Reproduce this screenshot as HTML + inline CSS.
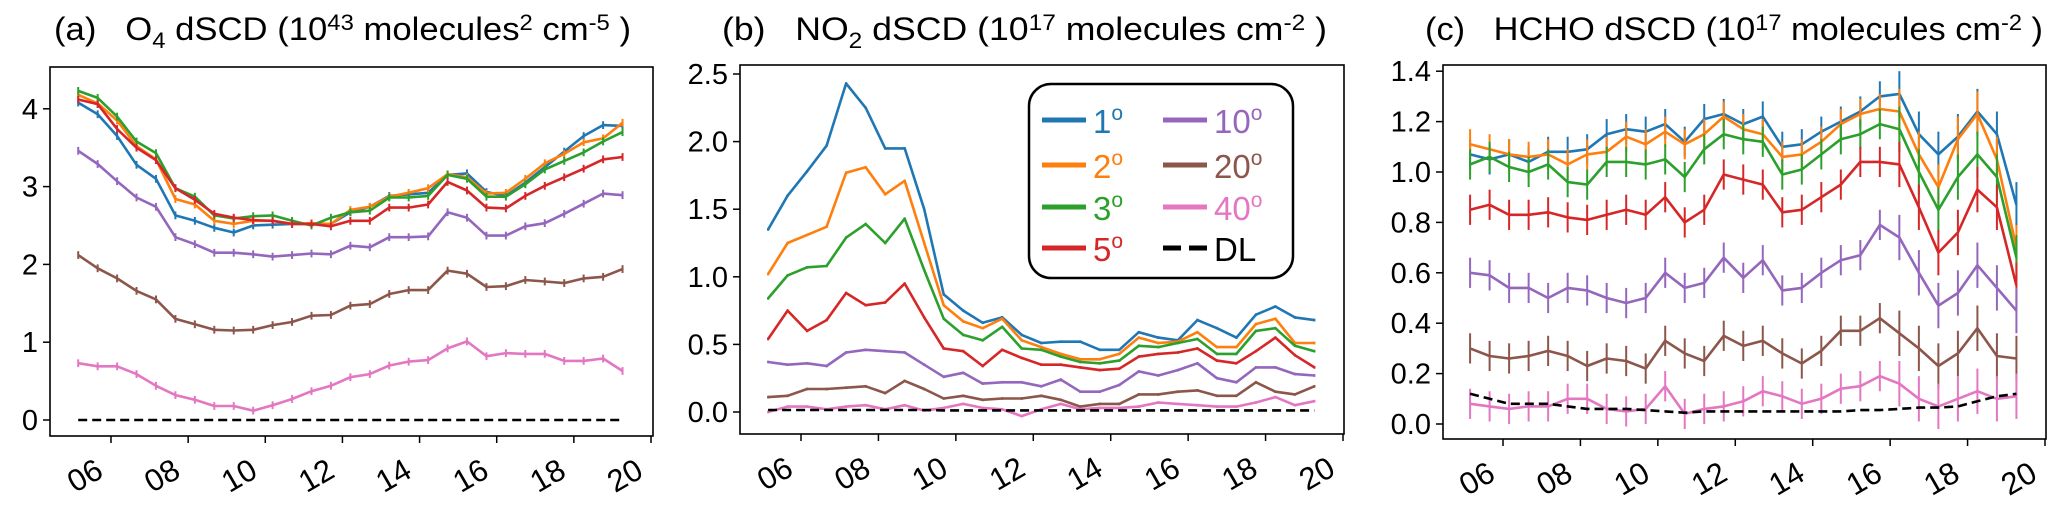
<!DOCTYPE html>
<html><head><meta charset="utf-8"><style>
body{margin:0;background:#fff}
svg{display:block;font-family:"Liberation Sans",sans-serif}
</style></head><body>
<svg id="fig" width="2067" height="513" viewBox="0 0 2067 513" xmlns="http://www.w3.org/2000/svg"></svg>
<script>
const hours=[];for(let i=0;i<29;i++)hours.push(5.15+0.504*i);
const xTicks=[6,8,10,12,14,16,18,20];
const xTickLabels=["06","08","10","12","14","16","18","20"];
const colors=["#1f77b4","#ff7f0e","#2ca02c","#d62728","#9467bd","#8c564b","#e377c2"];
const seriesNames=["1°","2°","3°","5°","10°","20°","40°"];
const o4_1=[4.08,3.93,3.65,3.28,3.1,2.63,2.56,2.47,2.41,2.5,2.51,2.52,2.52,2.52,2.67,2.74,2.88,2.9,2.92,3.15,3.17,2.93,2.88,3.05,3.25,3.45,3.65,3.79,3.78];
const o4_2=[4.18,4.07,3.85,3.52,3.35,2.84,2.77,2.56,2.52,2.56,2.56,2.52,2.53,2.52,2.7,2.74,2.87,2.92,2.98,3.16,3.12,2.91,2.92,3.1,3.3,3.42,3.57,3.62,3.82];
const o4_3=[4.23,4.14,3.9,3.58,3.43,2.98,2.87,2.63,2.59,2.62,2.63,2.56,2.5,2.6,2.67,2.69,2.86,2.86,2.88,3.15,3.1,2.87,2.87,3.03,3.22,3.33,3.44,3.58,3.7];
const o4_5=[4.12,4.06,3.74,3.5,3.34,2.98,2.83,2.65,2.6,2.57,2.56,2.52,2.52,2.49,2.56,2.56,2.73,2.73,2.77,3.06,2.95,2.73,2.72,2.88,3.01,3.12,3.23,3.35,3.38];
const o4_10=[3.46,3.29,3.07,2.86,2.74,2.35,2.26,2.15,2.15,2.13,2.1,2.12,2.14,2.13,2.24,2.22,2.35,2.35,2.36,2.67,2.6,2.37,2.37,2.49,2.53,2.65,2.78,2.91,2.89];
const o4_20=[2.12,1.95,1.82,1.66,1.55,1.3,1.23,1.16,1.15,1.16,1.22,1.26,1.34,1.35,1.47,1.49,1.62,1.67,1.67,1.92,1.88,1.71,1.72,1.8,1.78,1.76,1.82,1.84,1.94];
const o4_40=[0.73,0.69,0.69,0.59,0.44,0.32,0.26,0.18,0.18,0.12,0.19,0.27,0.37,0.44,0.55,0.59,0.7,0.75,0.77,0.92,1.01,0.82,0.86,0.85,0.85,0.76,0.76,0.79,0.63];
const o4_dl=[0,0,0,0,0,0,0,0,0,0,0,0,0,0,0,0,0,0,0,0,0,0,0,0,0,0,0,0,0];
const no2_1=[1.35,1.6,1.78,1.97,2.43,2.25,1.95,1.95,1.5,0.87,0.75,0.66,0.7,0.57,0.51,0.52,0.52,0.46,0.46,0.59,0.55,0.53,0.68,0.62,0.55,0.72,0.78,0.7,0.68];
const no2_2=[1.02,1.25,1.31,1.37,1.77,1.81,1.61,1.71,1.25,0.79,0.67,0.62,0.69,0.53,0.48,0.43,0.39,0.39,0.43,0.55,0.51,0.52,0.59,0.48,0.48,0.65,0.69,0.51,0.51];
const no2_3=[0.84,1.01,1.07,1.08,1.29,1.39,1.25,1.43,1.05,0.69,0.57,0.53,0.63,0.47,0.46,0.41,0.37,0.36,0.38,0.49,0.48,0.51,0.54,0.43,0.43,0.6,0.62,0.49,0.45];
const no2_5=[0.54,0.75,0.6,0.68,0.88,0.79,0.81,0.95,0.7,0.47,0.45,0.34,0.46,0.4,0.35,0.35,0.33,0.31,0.32,0.41,0.43,0.44,0.47,0.38,0.36,0.45,0.55,0.42,0.33];
const no2_10=[0.37,0.35,0.36,0.34,0.44,0.46,0.45,0.44,0.35,0.26,0.29,0.21,0.22,0.22,0.19,0.24,0.15,0.15,0.2,0.3,0.27,0.31,0.36,0.25,0.22,0.33,0.33,0.28,0.27];
const no2_20=[0.11,0.12,0.17,0.17,0.18,0.19,0.14,0.23,0.17,0.1,0.12,0.09,0.1,0.1,0.12,0.09,0.04,0.06,0.06,0.13,0.13,0.15,0.16,0.12,0.12,0.22,0.15,0.13,0.19];
const no2_40=[0.0,0.04,0.04,0.02,0.04,0.05,0.02,0.05,0.01,0.03,0.06,0.03,0.02,-0.03,0.02,0.06,0.02,0.03,0.03,0.04,0.07,0.06,0.05,0.04,0.04,0.07,0.11,0.05,0.08];
const no2_dl=[0.015,0.015,0.015,0.015,0.015,0.015,0.015,0.015,0.015,0.012,0.012,0.012,0.012,0.012,0.012,0.012,0.012,0.012,0.012,0.012,0.012,0.012,0.012,0.012,0.012,0.012,0.012,0.012,0.012];
const hcho_1=[1.07,1.05,1.07,1.04,1.08,1.08,1.09,1.15,1.17,1.16,1.19,1.12,1.21,1.23,1.19,1.22,1.1,1.11,1.16,1.2,1.24,1.3,1.31,1.15,1.07,1.14,1.24,1.15,0.87];
const hcho_2=[1.11,1.09,1.07,1.06,1.07,1.03,1.07,1.08,1.14,1.11,1.16,1.11,1.15,1.22,1.17,1.15,1.06,1.07,1.12,1.19,1.23,1.25,1.24,1.07,0.94,1.13,1.23,1.05,0.7];
const hcho_3=[1.03,1.06,1.02,1.0,1.03,0.96,0.95,1.04,1.04,1.03,1.05,0.98,1.09,1.15,1.13,1.12,0.99,1.01,1.07,1.13,1.15,1.19,1.17,1.0,0.85,0.98,1.07,0.98,0.66];
const hcho_5=[0.85,0.87,0.83,0.83,0.84,0.82,0.81,0.83,0.85,0.83,0.9,0.8,0.85,0.99,0.97,0.95,0.84,0.85,0.9,0.95,1.04,1.04,1.03,0.86,0.68,0.76,0.93,0.86,0.55];
const hcho_10=[0.6,0.59,0.54,0.54,0.5,0.54,0.53,0.5,0.48,0.5,0.6,0.54,0.56,0.66,0.58,0.65,0.53,0.54,0.6,0.65,0.67,0.79,0.74,0.6,0.47,0.52,0.63,0.54,0.45];
const hcho_20=[0.3,0.27,0.26,0.27,0.29,0.27,0.23,0.26,0.25,0.22,0.33,0.28,0.25,0.35,0.31,0.33,0.28,0.24,0.29,0.37,0.37,0.42,0.36,0.3,0.23,0.28,0.38,0.27,0.26];
const hcho_40=[0.08,0.07,0.06,0.07,0.07,0.1,0.1,0.06,0.05,0.06,0.15,0.04,0.06,0.07,0.09,0.13,0.11,0.08,0.1,0.14,0.15,0.19,0.16,0.1,0.07,0.1,0.13,0.1,0.11];
const hcho_dl=[0.12,0.1,0.08,0.08,0.08,0.07,0.06,0.06,0.06,0.055,0.05,0.045,0.05,0.05,0.05,0.05,0.05,0.05,0.05,0.05,0.055,0.055,0.06,0.065,0.065,0.07,0.09,0.11,0.12];
const yTicksA=[0,1,2,3,4], yLabelsA=["0","1","2","3","4"];
const yTicksB=[0,0.5,1,1.5,2,2.5], yLabelsB=["0.0","0.5","1.0","1.5","2.0","2.5"];
const yTicksC=[0,0.2,0.4,0.6,0.8,1.0,1.2,1.4], yLabelsC=["0.0","0.2","0.4","0.6","0.8","1.0","1.2","1.4"];
const errA=0.05, errB=0.01, errC=0.06;

const NS="http://www.w3.org/2000/svg";
const svg=document.getElementById('fig');
function mk(tag,attrs,parent){const e=document.createElementNS(NS,tag);for(const k in attrs)e.setAttribute(k,attrs[k]);(parent||svg).appendChild(e);return e;}

function panel(cfg){
  const g=mk('g',{});
  
  
  const X=h=>cfg.x6+(h-6)*(cfg.x20-cfg.x6)/14;
  const Y=v=>cfg.y0-v*cfg.ppu;
  cfg.series.forEach((s,si)=>{
    const sg=mk('g',{},g);
    
    
    const pts=s.map((v,i)=>X(hours[i]).toFixed(1)+','+Y(v).toFixed(1)).join(' ');
    mk('polyline',{points:pts,fill:'none',stroke:colors[si],'stroke-width':2.6,'stroke-linejoin':'round'},sg);
    s.forEach((v,i)=>{
      const e=cfg.err*(cfg.grow&&i>=22?1.5:1);
      mk('line',{x1:X(hours[i]),x2:X(hours[i]),y1:Y(v+e),y2:Y(v-e),stroke:colors[si],'stroke-width':2},sg);
    });
  });
  const dl=mk('polyline',{points:cfg.dl.map((v,i)=>X(hours[i]).toFixed(1)+','+Y(v).toFixed(1)).join(' '),fill:'none',stroke:'#000','stroke-width':2.6,'stroke-dasharray':'9,5'},g);
  
  
  const fr=mk('rect',{x:cfg.L,y:cfg.T,width:cfg.R-cfg.L,height:cfg.B-cfg.T,fill:'none',stroke:'#000','stroke-width':1.6},g);
  
  
  xTicks.forEach((t,i)=>{
    mk('line',{x1:X(t),x2:X(t),y1:cfg.B,y2:cfg.B+7,stroke:'#000','stroke-width':1.5},g);
    const tx=mk('text',{x:X(t)-6,y:cfg.B+40,'font-size':31,'text-anchor':'end',transform:`rotate(-30 ${X(t)-6} ${cfg.B+40})`},g);
    tx.textContent=xTickLabels[i];
    
    
  });
  cfg.yTicks.forEach((t,i)=>{
    mk('line',{x1:cfg.L-7,x2:cfg.L,y1:Y(t),y2:Y(t),stroke:'#000','stroke-width':1.5},g);
    const tx=mk('text',{x:cfg.L-12,y:Y(t)+10,'font-size':29,'text-anchor':'end'},g);
    tx.textContent=cfg.yLabels[i];
    
    
  });
  const ti=mk('text',{x:cfg.tx,y:40,'font-size':32,textLength:cfg.tw,lengthAdjust:'spacingAndGlyphs'},g);
  ti.innerHTML=cfg.title;
  
  
}
const sup=s=>`<tspan dy="-10" font-size="22">${s}</tspan><tspan dy="10"> </tspan>`;
const sub=s=>`<tspan dy="8" font-size="22">${s}</tspan><tspan dy="-8"> </tspan>`;
panel({name:'panel-a-o4',L:50,R:653,T:67,B:436,x6:111,x20:651,y0:420,ppu:77.8,
  series:[o4_1,o4_2,o4_3,o4_5,o4_10,o4_20,o4_40],dl:o4_dl,err:errA,yTicks:yTicksA,yLabels:yLabelsA,tx:54,tw:577,
  title:`(a)&#160;&#160;&#160;O${sub('4')}dSCD (10${sup('43')}molecules${sup('2')}cm${sup('-5')})`});
panel({name:'panel-b-no2',L:740,R:1344,T:65,B:434,x6:801,x20:1343,y0:412,ppu:135.2,
  series:[no2_1,no2_2,no2_3,no2_5,no2_10,no2_20,no2_40],dl:no2_dl,err:errB,yTicks:yTicksB,yLabels:yLabelsB,tx:722,tw:605,
  title:`(b)&#160;&#160;&#160;NO${sub('2')}dSCD (10${sup('17')}molecules cm${sup('-2')})`});
panel({name:'panel-c-hcho',L:1443,R:2046,T:65,B:439,x6:1503,x20:2045,y0:424,ppu:252,grow:true,
  series:[hcho_1,hcho_2,hcho_3,hcho_5,hcho_10,hcho_20,hcho_40],dl:hcho_dl,err:errC,yTicks:yTicksC,yLabels:yLabelsC,tx:1425,tw:618,
  title:`(c)&#160;&#160;&#160;HCHO dSCD (10${sup('17')}molecules cm${sup('-2')})`});

const lg=mk('g',{});


mk('rect',{x:1029,y:84,width:264,height:194,rx:22,fill:'#fff',stroke:'#000','stroke-width':2.5},lg);
const entries=[[0,0],[1,0],[2,0],[3,0],[4,1],[5,1],[6,1],[7,1]];
const rowsY=[120,165,207,248];
entries.forEach((e,k)=>{
  const col=e[1], row=k%4, idx=e[0];
  const lx=col?1163:1042, ty=rowsY[row];
  const c=idx<7?colors[idx]:'#000';
  const ln=mk('line',{x1:lx,x2:lx+44,y1:ty,y2:ty,stroke:c,'stroke-width':5,'stroke-dasharray':idx<7?'none':'18,8'},lg);
  
  
  const t=mk('text',{x:lx+51,y:ty+13,'font-size':33,fill:c},lg);
  t.innerHTML=idx<7?seriesNames[idx].replace('°','')+'<tspan dy="-13" font-size="21">o</tspan>':'DL';
  
  
});
</script>
</body></html>
